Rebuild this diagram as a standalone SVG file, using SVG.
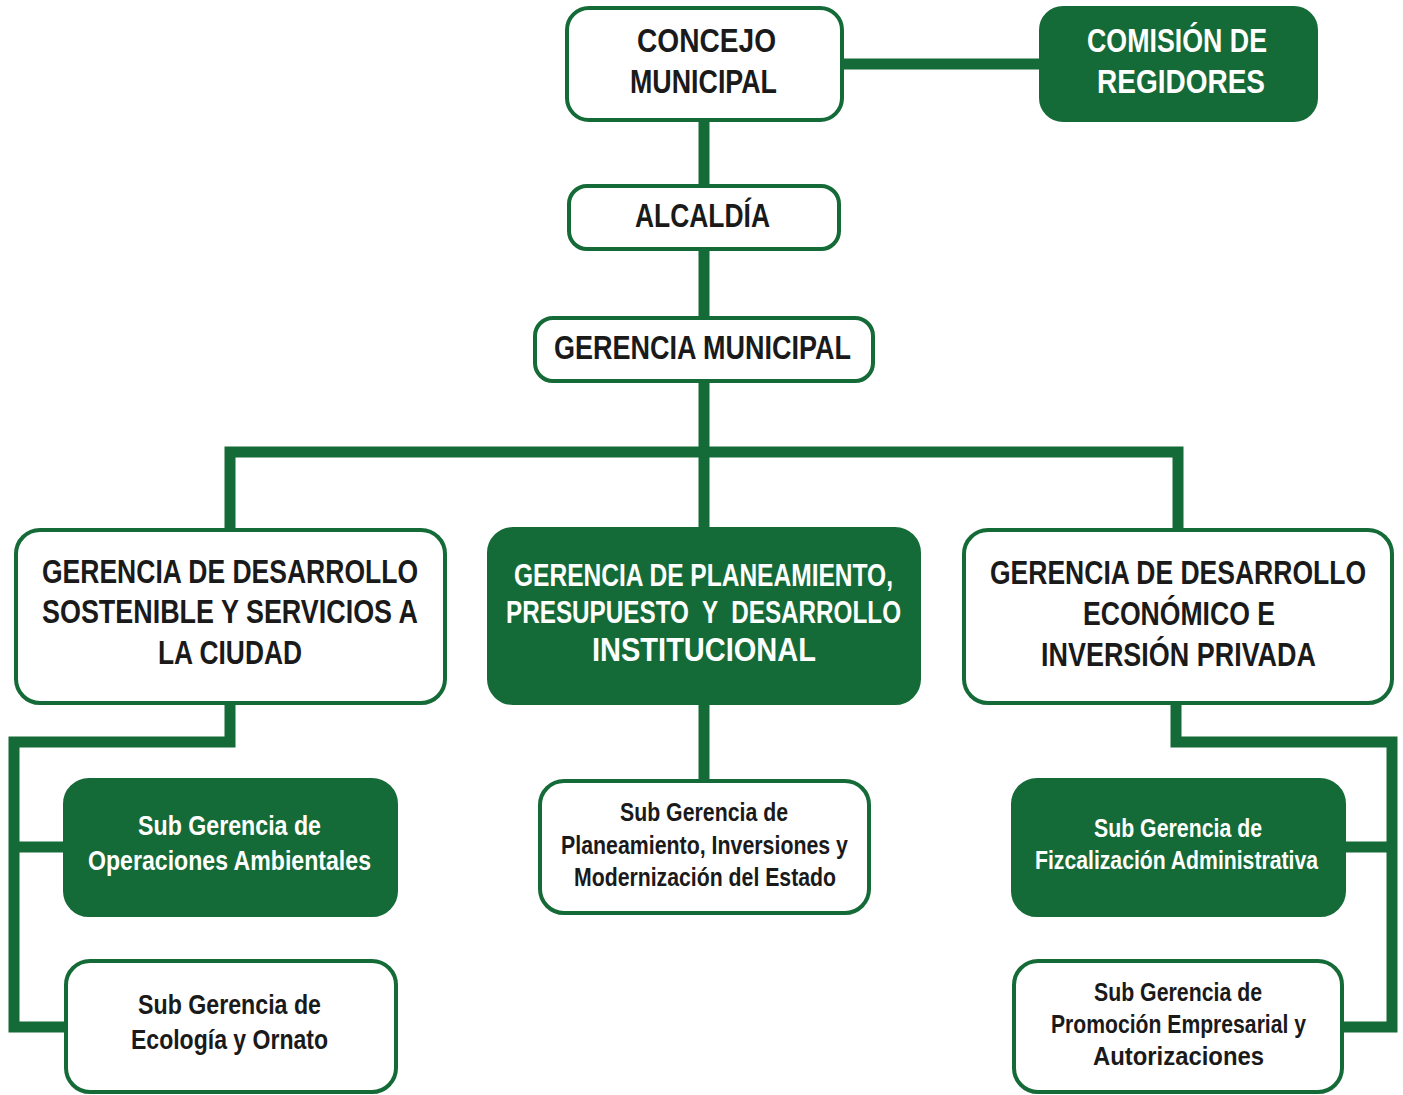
<svg xmlns="http://www.w3.org/2000/svg" width="1403" height="1095" viewBox="0 0 1403 1095">
<style>
.b{fill:#fff;stroke:#156b37;stroke-width:4}
.f{fill:#156b37;stroke:#156b37;stroke-width:4}
.c{fill:none;stroke:#156b37;stroke-width:11;stroke-linecap:butt;stroke-linejoin:miter}
text{font-family:"Liberation Sans",Arial,sans-serif;font-weight:bold;text-anchor:middle}
.d{fill:#1a1a1a}
.w{fill:#fff}
.L{font-size:34px}
.M{font-size:32.5px}
.P{font-size:31px}
.S{font-size:28px}
.T{font-size:26px}
</style>
<rect width="1403" height="1095" fill="#fff"/>
<g id="connectors">
<path class="c" d="M842 64H1040"/>
<path class="c" d="M704 120V186"/>
<path class="c" d="M704 249V318"/>
<path class="c" d="M704 381V528"/>
<path class="c" d="M230 530V452H1178V530"/>
<path class="c" d="M704 704V780"/>
<path class="c" d="M230 703V742H14V1027H66"/>
<path class="c" d="M14 847H64"/>
<path class="c" d="M1176 703V742H1392V1027H1343"/>
<path class="c" d="M1392 847H1345"/>
</g>
<g id="concejo"><rect class="b" x="567" y="8" width="275" height="112" rx="22"/>
<text class="d L" x="706.5" y="52" textLength="139" lengthAdjust="spacingAndGlyphs">CONCEJO</text><text class="d L" x="703.5" y="93" textLength="147" lengthAdjust="spacingAndGlyphs">MUNICIPAL</text></g>
<g id="comision"><rect class="f" x="1041" y="8" width="275" height="112" rx="22"/>
<text class="w L" x="1177" y="52" textLength="180" lengthAdjust="spacingAndGlyphs">COMISIÓN DE</text><text class="w L" x="1181" y="93" textLength="168" lengthAdjust="spacingAndGlyphs">REGIDORES</text></g>
<g id="alcaldia"><rect class="b" x="569" y="186" width="270" height="63" rx="18"/>
<text class="d L" x="702.5" y="227" textLength="135" lengthAdjust="spacingAndGlyphs">ALCALDÍA</text></g>
<g id="gerencia-municipal"><rect class="b" x="535" y="318" width="338" height="63" rx="18"/>
<text class="d L" x="702.5" y="359" textLength="297" lengthAdjust="spacingAndGlyphs">GERENCIA MUNICIPAL</text></g>
<g id="gerencia-dsc"><rect class="b" x="16" y="530" width="429" height="173" rx="24"/>
<text class="d M" x="230" y="583" textLength="376" lengthAdjust="spacingAndGlyphs">GERENCIA DE DESARROLLO</text><text class="d M" x="230" y="623" textLength="376" lengthAdjust="spacingAndGlyphs">SOSTENIBLE Y SERVICIOS A</text><text class="d M" x="230" y="664" textLength="144" lengthAdjust="spacingAndGlyphs">LA CIUDAD</text></g>
<g id="gerencia-ppd"><rect class="f" x="489" y="529" width="430" height="174" rx="24"/>
<text class="w P" x="703.5" y="586" textLength="379" lengthAdjust="spacingAndGlyphs">GERENCIA DE PLANEAMIENTO,</text><text class="w P" x="703.5" y="623" textLength="395" lengthAdjust="spacingAndGlyphs" style="white-space:pre">PRESUPUESTO  Y  DESARROLLO</text><text class="w L" x="704" y="661" textLength="224" lengthAdjust="spacingAndGlyphs">INSTITUCIONAL</text></g>
<g id="gerencia-dei"><rect class="b" x="964" y="530" width="428" height="173" rx="24"/>
<text class="d M" x="1178" y="584" textLength="376" lengthAdjust="spacingAndGlyphs">GERENCIA DE DESARROLLO</text><text class="d M" x="1179" y="625" textLength="192" lengthAdjust="spacingAndGlyphs">ECONÓMICO E</text><text class="d M" x="1178.5" y="666" textLength="275" lengthAdjust="spacingAndGlyphs">INVERSIÓN PRIVADA</text></g>
<g id="sub-operaciones"><rect class="f" x="65" y="780" width="331" height="135" rx="24"/>
<text class="w S" x="229.5" y="835" textLength="183" lengthAdjust="spacingAndGlyphs">Sub Gerencia de</text><text class="w S" x="229.5" y="870" textLength="283" lengthAdjust="spacingAndGlyphs">Operaciones Ambientales</text></g>
<g id="sub-ecologia"><rect class="b" x="66" y="961" width="330" height="131" rx="24"/>
<text class="d S" x="229.5" y="1014" textLength="183" lengthAdjust="spacingAndGlyphs">Sub Gerencia de</text><text class="d S" x="229.5" y="1049" textLength="197" lengthAdjust="spacingAndGlyphs">Ecología y Ornato</text></g>
<g id="sub-planeamiento"><rect class="b" x="540" y="781" width="329" height="132" rx="24"/>
<text class="d T" x="704" y="821" textLength="168" lengthAdjust="spacingAndGlyphs">Sub Gerencia de</text><text class="d T" x="704.5" y="854" textLength="287" lengthAdjust="spacingAndGlyphs">Planeamiento, Inversiones y</text><text class="d T" x="705" y="886" textLength="262" lengthAdjust="spacingAndGlyphs">Modernización del Estado</text></g>
<g id="sub-fizcalizacion"><rect class="f" x="1013" y="780" width="331" height="135" rx="24"/>
<text class="w T" x="1178" y="837" textLength="168" lengthAdjust="spacingAndGlyphs">Sub Gerencia de</text><text class="w T" x="1176.5" y="869" textLength="283" lengthAdjust="spacingAndGlyphs">Fizcalización Administrativa</text></g>
<g id="sub-promocion"><rect class="b" x="1014" y="961" width="328" height="131" rx="24"/>
<text class="d T" x="1178" y="1001" textLength="168" lengthAdjust="spacingAndGlyphs">Sub Gerencia de</text><text class="d T" x="1178.5" y="1033" textLength="255" lengthAdjust="spacingAndGlyphs">Promoción Empresarial y</text><text class="d T" x="1178.5" y="1065" textLength="171" lengthAdjust="spacingAndGlyphs">Autorizaciones</text></g>
</svg>
